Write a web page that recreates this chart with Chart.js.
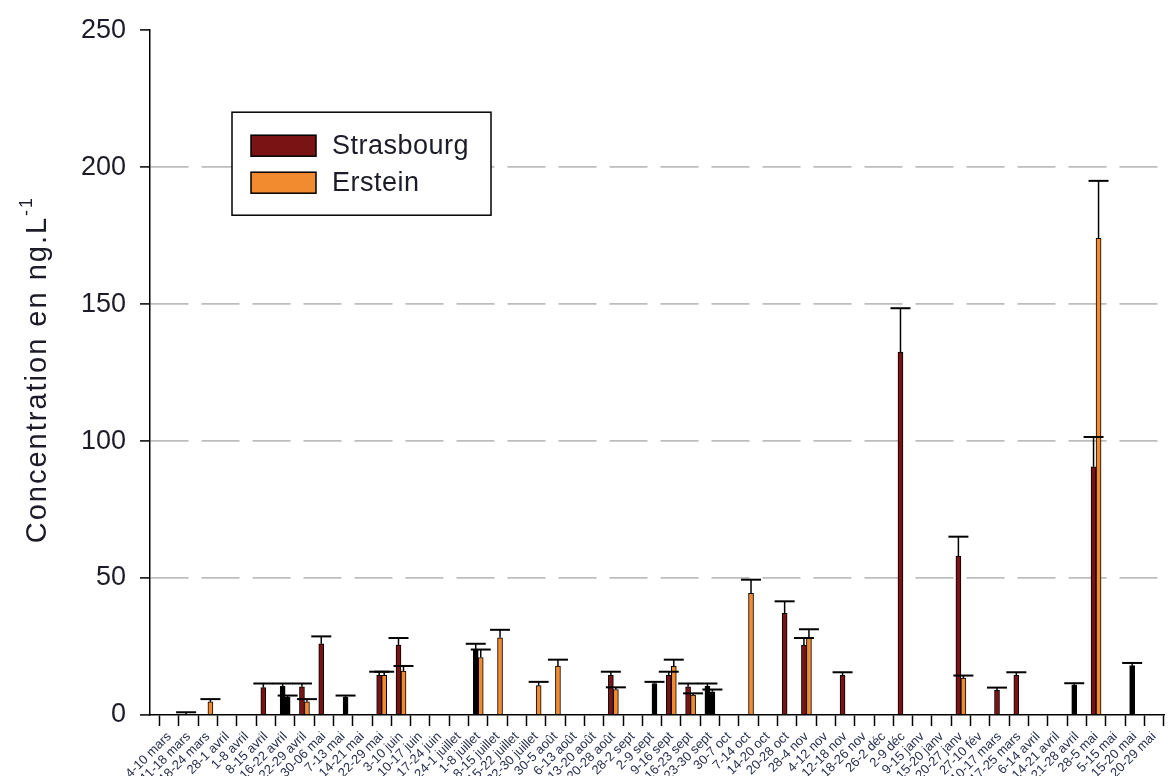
<!DOCTYPE html>
<html>
<head>
<meta charset="utf-8">
<script src="https://cdn.jsdelivr.net/npm/chart.js@4/dist/chart.umd.min.js"></script>
<style>
  html, body { margin: 0; padding: 0; background: #fff; overflow: hidden; }
  #wrap { width: 1168px; height: 776px; position: relative; }
</style>
</head>
<body>
<div id="wrap"><canvas id="c"></canvas></div>
<script>
// Weekly sampling periods (one per category, in order)
const periods = [
  '4-10 mars', '11-18 mars', '18-24 mars', '28-1 avril', '1-8 avril', '8-15 avril', '16-22 avril', '22-29 avril', '30-06 mai', '7-13 mai',
  '14-21 mai', '22-29 mai', '3-10 juin', '10-17 juin', '17-24 juin', '24-1 juillet', '1-8 juillet', '8-15 juillet', '15-22 juillet', '22-30 juillet',
  '30-5 août', '6-13 août', '13-20 août', '20-28 août', '28-2 sept', '2-9 sept', '9-16 sept', '16-23 sept', '23-30 sept', '30-7 oct',
  '7-14 oct', '14-20 oct', '20-28 oct', '28-4 nov', '4-12 nov', '12-18 nov', '18-26 nov', '26-2 déc', '2-9 déc', '9-15 janv',
  '15-20 janv', '20-27 janv', '27-10 fév', '10-17 mars', '17-25 mars', '6-14 avril', '14-21 avril', '21-28 avril', '28-5 mai', '5-15 mai',
  '15-20 mai', '20-29 mai'
];

// Mean concentrations (ng/L) and their standard deviations
const strasbourg = [
  null, 0.3, null, null, null, 10, 10.5, 10.3, 26, null,
  null, 14.5, 25.5, null, null, null, 24, null, null, null,
  null, null, null, 14.5, null, null, 14.5, 10.3, 10.5, null,
  null, null, 37.1, 25.5, null, 14.5, null, null, 132.5, null,
  null, 58, null, 9, 14.5, null, null, 11, 90.6, null,
  18, null
];
const strasbourgSd = [
  null, 0.7, null, null, null, 1.5, 1.0, 1.2, 2.7, null,
  null, 1.3, 2.6, null, null, null, 2.0, null, null, null,
  null, null, null, 1.3, null, null, 1.3, 1.2, 1.0, null,
  null, null, 4.4, 2.6, null, 1.1, null, null, 16, null,
  null, 7.1, null, 1.0, 1.1, null, null, 0.6, 10.9, null,
  1.0, null
];
const erstein = [
  null, null, 4.8, null, null, null, 6.5, 4.8, null, 6.5,
  null, 14.5, 16, null, null, null, 21, 28.2, null, 10.7,
  17.9, null, null, 9.3, null, 11.5, 17.8, 7.3, 8.5, null,
  44.4, null, null, 28.4, null, null, null, null, null, null,
  null, 13.5, null, null, null, null, null, null, 174, null,
  null, null
];
const ersteinSd = [
  null, null, 1.0, null, null, null, 0.6, 1.0, null, 0.6,
  null, 1.3, 1.9, null, null, null, 2.9, 2.9, null, 1.4,
  2.3, null, null, 0.8, null, 0.6, 2.4, 0.6, 0.8, null,
  5.0, null, null, 2.9, null, null, null, null, null, null,
  null, 0.9, null, null, null, null, null, null, 21, null,
  null, null
];
// Periods (1-based) whose bar is drawn filled in black
const strasbourgBlack = [2, 7, 17, 29, 48, 51];
const ersteinBlack = [7, 10, 26, 29];

const yTicks = [0, 50, 100, 150, 200, 250];

const RED = '#7a1313';
const ORANGE = '#f28b2f';
const FONT = '"Liberation Sans", Arial, sans-serif';
const INK = '#1c1c28';

const toPoints = vals => vals.map((v, i) => ({ x: i + 1, y: v }));

// Error bars (mean -> mean + SD) with caps
const errorBars = {
  id: 'errorBars',
  afterDatasetsDraw(chart) {
    const ctx = chart.ctx;
    const y = chart.scales.y;
    ctx.save();
    ctx.strokeStyle = '#000';
    chart.data.datasets.forEach((ds, di) => {
      const meta = chart.getDatasetMeta(di);
      meta.data.forEach((el, i) => {
        const v = ds.data[i].y, sd = ds.sd[i];
        if (v == null || sd == null) return;
        const yTop = y.getPixelForValue(v + sd);
        const yVal = y.getPixelForValue(v);
        ctx.lineWidth = 1.5;
        ctx.beginPath();
        ctx.moveTo(el.x, yVal);
        ctx.lineTo(el.x, yTop);
        ctx.stroke();
        ctx.lineWidth = 2;
        ctx.beginPath();
        ctx.moveTo(el.x - 10, yTop);
        ctx.lineTo(el.x + 10, yTop);
        ctx.stroke();
      });
    });
    ctx.restore();
  }
};

// Y axis title with superscript unit, and the boxed legend
const decorations = {
  id: 'decorations',
  afterDraw(chart) {
    const ctx = chart.ctx;
    const a = chart.chartArea;
    ctx.save();
    // axis title
    const main = 'Concentration en ng.L';
    const sup = '-1';
    ctx.letterSpacing = '2px';
    ctx.font = '29px ' + FONT;
    const wMain = ctx.measureText(main).width;
    ctx.font = '18px ' + FONT;
    const wSup = ctx.measureText(sup).width;
    ctx.translate(46, (a.top + a.bottom) / 2 - 3);
    ctx.rotate(-Math.PI / 2);
    ctx.fillStyle = INK;
    ctx.textBaseline = 'alphabetic';
    ctx.textAlign = 'left';
    const start = -(wMain + wSup) / 2;
    ctx.font = '29px ' + FONT;
    ctx.fillText(main, start, 0);
    ctx.font = '18px ' + FONT;
    ctx.fillText(sup, start + wMain, -14);
    ctx.restore();

    // legend
    ctx.save();
    const lx = a.left + 82, ly = a.top + 82, lw = 259, lh = 103;
    ctx.fillStyle = '#fff';
    ctx.fillRect(lx, ly, lw, lh);
    ctx.strokeStyle = '#000';
    ctx.lineWidth = 1.5;
    ctx.strokeRect(lx, ly, lw, lh);
    chart.data.datasets.forEach((ds, i) => {
      const sy = ly + 23 + i * 37;
      ctx.fillStyle = ds.legendColor;
      ctx.fillRect(lx + 19, sy, 65, 21);
      ctx.strokeStyle = '#000';
      ctx.lineWidth = 1.5;
      ctx.strokeRect(lx + 19, sy, 65, 21);
      ctx.fillStyle = INK;
      ctx.letterSpacing = '0.5px';
      ctx.font = '27px ' + FONT;
      ctx.textBaseline = 'middle';
      ctx.textAlign = 'left';
      ctx.fillText(ds.label, lx + 100, sy + 11);
    });
    ctx.restore();
  }
};

const fillFor = (base, blackList) => ctx => blackList.includes(ctx.dataIndex + 1) ? '#000' : base;

new Chart(document.getElementById('c'), {
  type: 'bar',
  data: {
    datasets: [
      {
        label: 'Strasbourg',
        data: toPoints(strasbourg),
        sd: strasbourgSd,
        legendColor: RED,
        backgroundColor: fillFor(RED, strasbourgBlack),
        borderColor: '#000',
        borderWidth: 1,
        barThickness: 5
      },
      {
        label: 'Erstein',
        data: toPoints(erstein),
        sd: ersteinSd,
        legendColor: ORANGE,
        backgroundColor: fillFor(ORANGE, ersteinBlack),
        borderColor: '#000',
        borderWidth: 1,
        barThickness: 5
      }
    ]
  },
  options: {
    responsive: true,
    maintainAspectRatio: false,
    animation: false,
    layout: { padding: { left: 0, right: 0, top: 24, bottom: 0 } },
    plugins: { legend: { display: false }, tooltip: { enabled: false } },
    scales: {
      x: {
        type: 'linear',
        min: 0,
        max: 52.52,
        offset: false,
        grid: { drawOnChartArea: false, drawTicks: true, tickLength: 11, tickColor: '#000', tickWidth: 1.5 },
        border: { display: true, color: '#000', width: 1.5 },
        ticks: {
          stepSize: 1,
          includeBounds: false,
          autoSkip: false,
          minRotation: 45,
          maxRotation: 45,
          padding: 3,
          color: '#2a3050',
          font: { family: FONT, size: 13 },
          callback: v => (Number.isInteger(v) && v >= 1 && v <= periods.length) ? periods[v - 1] : ''
        },
        afterFit: s => { s.height = 61; }
      },
      y: {
        min: yTicks[0],
        max: yTicks[yTicks.length - 1],
        grid: {
          color: c => (c.tick && c.tick.value > 0 && c.tick.value < 250) ? '#bdbdbd' : 'rgba(0,0,0,0)',
          lineWidth: 1.8,
          drawTicks: true,
          tickLength: 10,
          tickColor: '#000',
          tickWidth: 1.5,
          tickBorderDash: []
        },
        border: { display: true, color: '#000', width: 1.5, dash: [38, 13] },
        ticks: {
          stepSize: 50,
          padding: 14,
          color: INK,
          font: { family: FONT, size: 27 }
        },
        afterFit: s => { s.width = 150; }
      }
    }
  },
  plugins: [errorBars, decorations]
});
</script>
</body>
</html>
